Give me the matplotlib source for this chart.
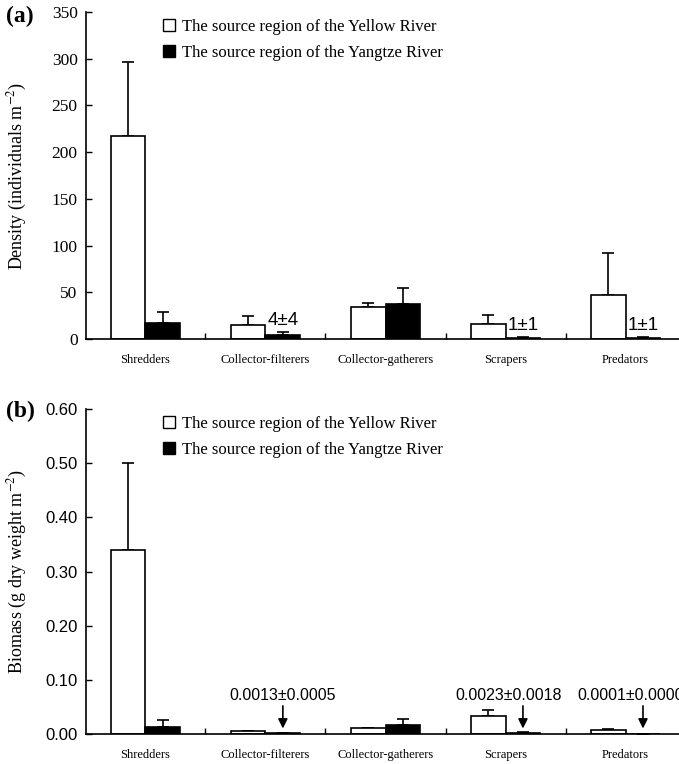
import numpy as np
import matplotlib.pyplot as plt
from matplotlib.patches import Patch

plt.rcParams['font.family'] = ['Liberation Serif', 'DejaVu Serif']
plt.rcParams['mathtext.fontset'] = 'stix'

# data
groups = ['Shredders', 'Collector-filterers', 'Collector-gatherers', 'Scrapers', 'Predators']
legend_names = ['The source region of the Yellow River', 'The source region of the Yangtze River']

dens_yellow = [217, 15, 34, 16.5, 47]
dens_yellow_sd = [80, 10, 5, 9, 45]
dens_yangtze = [17, 4, 37, 1, 1]
dens_yangtze_sd = [12, 4, 18, 1, 1]

bio_yellow = [0.34, 0.005, 0.012, 0.033, 0.008]
bio_yellow_sd = [0.16, 0.0, 0.0, 0.012, 0.002]
bio_yangtze = [0.013, 0.0013, 0.017, 0.0023, 0.0001]
bio_yangtze_sd = [0.012, 0.0005, 0.010, 0.0018, 0.0]

dens_notes = {1: '4\u00b14', 3: '1\u00b11', 4: '1\u00b11'}
bio_notes = {1: '0.0013\u00b10.0005', 3: '0.0023\u00b10.0018', 4: '0.0001\u00b10.0000'}
# small horizontal shift of the biomass note texts (in category units)
bio_note_shift = {1: 0.0, 3: -0.12, 4: -0.1}

sans = ['Liberation Sans Narrow', 'Liberation Sans', 'DejaVu Sans']

x = np.arange(len(groups))
w = 0.29

fig = plt.figure(figsize=(6.79, 7.64), dpi=100)
ax1 = fig.add_axes([86 / 679, 1 - 339 / 764, 599 / 679, 327 / 764])
ax2 = fig.add_axes([86 / 679, 1 - 734 / 764, 599 / 679, 325 / 764])


def draw(ax, yel, yel_sd, yan, yan_sd):
    ax.bar(x - w / 2, yel, w, color='white', edgecolor='black', linewidth=1.2, zorder=2)
    ax.bar(x + w / 2, yan, w, color='black', edgecolor='black', linewidth=1.2, zorder=2)
    z = np.zeros(len(x))
    ax.errorbar(x - w / 2, yel, yerr=[z, yel_sd], fmt='none', ecolor='black',
                elinewidth=1.2, capsize=4, capthick=1.2, zorder=1)
    ax.errorbar(x + w / 2, yan, yerr=[z, yan_sd], fmt='none', ecolor='black',
                elinewidth=1.2, capsize=4, capthick=1.2, zorder=1)
    ax.set_xlim(-0.495, 4.495)
    ax.spines['top'].set_visible(False)
    ax.spines['right'].set_visible(False)
    ax.spines['left'].set_linewidth(1.2)
    ax.spines['bottom'].set_linewidth(1.2)
    ax.set_xticks(x[:-1] + 0.5)
    ax.set_xticklabels([])
    ax.set_xticks(x, minor=True)
    ax.set_xticklabels(groups, minor=True, fontsize=9)
    ax.tick_params(axis='x', which='major', direction='in', length=4, width=1)
    ax.tick_params(axis='x', which='minor', length=0, pad=11)
    ax.tick_params(axis='y', direction='in', length=4, width=1, pad=6)
    handles = [Patch(facecolor='white', edgecolor='black', linewidth=1),
               Patch(facecolor='black', edgecolor='black', linewidth=1)]
    ax.legend(handles, legend_names, loc='upper left', bbox_to_anchor=(0.118, 1.0),
              frameon=False, fontsize=12, handlelength=0.7, handleheight=0.7,
              handletextpad=0.4, labelspacing=0.6, borderaxespad=0.2, borderpad=0.2)


# (a) density
draw(ax1, dens_yellow, dens_yellow_sd, dens_yangtze, dens_yangtze_sd)
ax1.set_ylim(0, 350)
ax1.set_yticks(np.arange(0, 351, 50))
ax1.tick_params(axis='y', labelsize=12.5)
ax1.set_ylabel('Density (individuals m$^{-2}$)', fontsize=13)
ax1.yaxis.set_label_coords(-0.095, 0.5)
for i, s in dens_notes.items():
    top = dens_yangtze[i] + dens_yangtze_sd[i]
    ax1.text(x[i] + w / 2, top + 12, s, ha='center', va='center', fontsize=13.5, family=sans)

# (b) biomass
draw(ax2, bio_yellow, bio_yellow_sd, bio_yangtze, bio_yangtze_sd)
ax2.set_ylim(0, 0.6)
ax2.set_yticks(np.arange(0, 0.61, 0.1))
ax2.set_yticklabels(['%.2f' % v for v in np.arange(0, 0.61, 0.1)], family=sans, fontsize=12)
ax2.set_ylabel('Biomass (g dry weight m$^{-2}$)', fontsize=13)
ax2.yaxis.set_label_coords(-0.095, 0.5)
for i, s in bio_notes.items():
    xb = x[i] + w / 2
    ax2.annotate('', xy=(xb, 0.005), xytext=(xb, 0.057),
                 arrowprops=dict(arrowstyle='-|>', color='black', lw=1.2, mutation_scale=14))
    ax2.text(xb + bio_note_shift[i], 0.072, s, ha='center', va='center',
             fontsize=11.5, family=sans)

fig.text(6 / 679, 1 - 16 / 764, '(a)', fontsize=17, fontweight='bold', va='center')
fig.text(6 / 679, 1 - 411 / 764, '(b)', fontsize=17, fontweight='bold', va='center')

fig.savefig('out.png', dpi=100)
